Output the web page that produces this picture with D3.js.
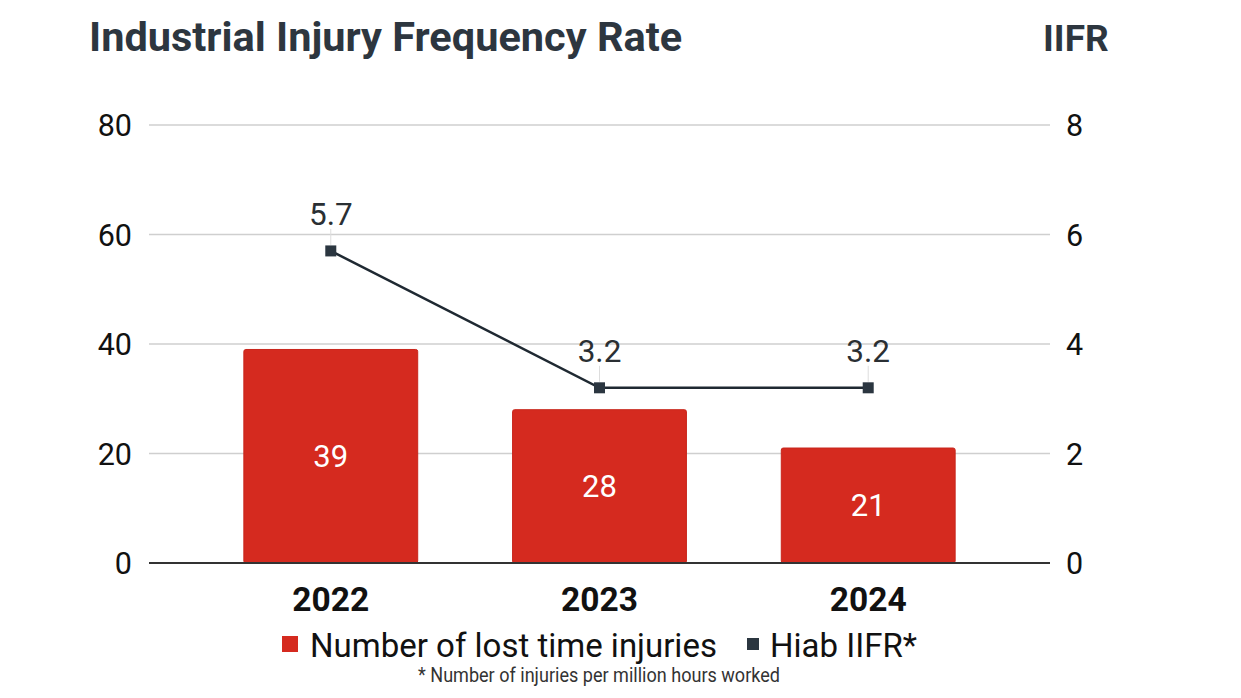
<!DOCTYPE html>
<html><head><meta charset="utf-8">
<script src="https://cdn.jsdelivr.net/npm/d3@7"></script>
<style>
html,body{margin:0;padding:0;background:#fff;}
svg{display:block;font-family:Roboto,"Noto Sans",sans-serif;}
</style></head>
<body><svg id="c" width="1241" height="698"></svg>
<script>
const years = ["2022","2023","2024"];
const lostTimeInjuries = [39,28,21];
const iifr = [5.7,3.2,3.2];
const leftTicks = [0,20,40,60,80];
const rightTicks = [0,2,4,6,8];
const titleText = "Industrial Injury Frequency Rate";
const rightTitle = "IIFR";
const legendLabels = ["Number of lost time injuries","Hiab IIFR*"];
const footnote = "* Number of injuries per million hours worked";

const svg = d3.select("#c");
const L = 149, R = 1050, T = 125, B = 563;
const x = d3.scaleBand().domain(years).range([L,R]).paddingInner(0.353).paddingOuter(0.353);
const yL = d3.scaleLinear().domain([0,80]).range([B,T]);
const yR = d3.scaleLinear().domain([0,8]).range([B,T]);
const red = "#d52a1f", dark = "#2b3640";

// title
svg.append("text").attr("x",89).attr("y",51).attr("font-size",41.5).attr("font-weight",700)
  .attr("fill","#2d363f").text(titleText);
svg.append("text").attr("x",1043).attr("y",51).attr("font-size",37).attr("font-weight",700)
  .attr("fill","#2d363f").text(rightTitle);

// gridlines
svg.append("g").selectAll("line").data(leftTicks.filter(d=>d>0)).join("line")
  .attr("x1",L).attr("x2",R).attr("y1",d=>yL(d)).attr("y2",d=>yL(d))
  .attr("stroke","#cfcfcf").attr("stroke-width",1.5);

// left axis
const gl = svg.append("g").attr("transform",`translate(${L},0)`)
  .call(d3.axisLeft(yL).tickValues(leftTicks).tickSize(0).tickPadding(17));
gl.select(".domain").remove();
gl.selectAll("text").attr("font-size",30.5).attr("fill","#111").attr("font-family","Roboto").attr("dy","0.35em");

// right axis
const gr = svg.append("g").attr("transform",`translate(${R},0)`)
  .call(d3.axisRight(yR).tickValues(rightTicks).tickSize(0).tickPadding(16));
gr.select(".domain").remove();
gr.selectAll("text").attr("font-size",30.5).attr("fill","#111").attr("font-family","Roboto").attr("dy","0.35em");

// bars
svg.append("g").selectAll("rect").data(years).join("rect")
  .attr("x",d=>x(d)).attr("width",x.bandwidth())
  .attr("y",(d,i)=>yL(lostTimeInjuries[i])).attr("height",(d,i)=>B-yL(lostTimeInjuries[i]))
  .attr("rx",2).attr("fill",red).attr("stroke","#c8251b").attr("stroke-width",1);

svg.append("g").selectAll("text").data(years).join("text")
  .attr("x",d=>x(d)+x.bandwidth()/2)
  .attr("y",(d,i)=>(yL(lostTimeInjuries[i])+B)/2)
  .attr("dy","0.35em").attr("text-anchor","middle").attr("font-size",31).attr("fill","#fff")
  .text((d,i)=>lostTimeInjuries[i]);

// baseline
svg.append("line").attr("x1",L).attr("x2",R).attr("y1",B).attr("y2",B)
  .attr("stroke","#333").attr("stroke-width",2);

// x labels
const gx = svg.append("g").attr("transform",`translate(0,${B})`)
  .call(d3.axisBottom(x).tickSize(0).tickPadding(24));
gx.select(".domain").remove();
gx.selectAll("text").attr("font-size",33.5).attr("font-weight",700).attr("fill","#111").attr("font-family","Roboto");

// line
const cx = d=>x(d)+x.bandwidth()/2;
const line = d3.line().x((d,i)=>cx(years[i])).y(d=>yR(d));
svg.append("path").datum(iifr).attr("d",line).attr("fill","none")
  .attr("stroke","#1f2932").attr("stroke-width",2.5);

// connector ticks
svg.append("g").selectAll("line").data(iifr).join("line")
  .attr("x1",(d,i)=>cx(years[i])).attr("x2",(d,i)=>cx(years[i]))
  .attr("y1",d=>yR(d)-22).attr("y2",d=>yR(d)-6)
  .attr("stroke","#ddd").attr("stroke-width",1);

svg.append("g").selectAll("rect").data(iifr).join("rect")
  .attr("x",(d,i)=>cx(years[i])-5.5).attr("y",d=>yR(d)-5.5)
  .attr("width",11).attr("height",11).attr("fill",dark);

svg.append("g").selectAll("text").data(iifr).join("text")
  .attr("x",(d,i)=>cx(years[i])).attr("y",d=>yR(d)-37)
  .attr("dy","0.35em").attr("text-anchor","middle").attr("font-size",31.5).attr("fill","#2a2f33")
  .text(d=>d3.format(".1f")(d));

// legend
svg.append("rect").attr("x",282).attr("y",636).attr("width",16).attr("height",16).attr("fill",red);
svg.append("text").attr("x",310).attr("y",657).attr("font-size",33).attr("fill","#111").text(legendLabels[0]);
svg.append("rect").attr("x",747).attr("y",638).attr("width",12).attr("height",12).attr("fill",dark);
svg.append("text").attr("x",770).attr("y",657).attr("font-size",33).attr("fill","#111").text(legendLabels[1]);
svg.append("text").attr("x",418).attr("y",682).attr("font-size",20)
  .attr("textLength",362).attr("lengthAdjust","spacingAndGlyphs")
  .attr("fill","#333").text(footnote);
</script></body></html>
